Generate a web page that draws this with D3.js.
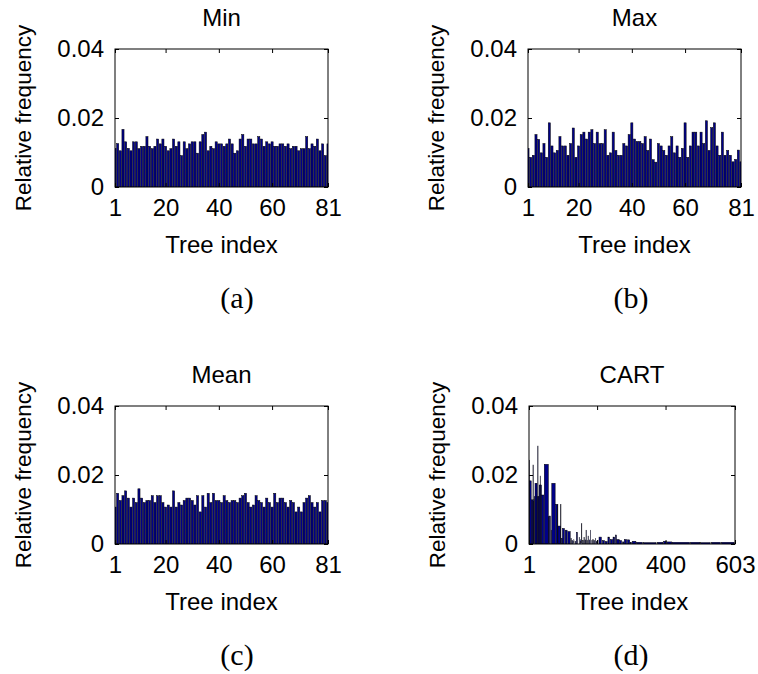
<!DOCTYPE html>
<html>
<head>
<meta charset="utf-8">
<script src="https://cdn.jsdelivr.net/npm/d3@7"></script>
<style>
  body { margin: 0; background: #fff; }
  svg { display: block; }
  text { font-family: Arial, "Liberation Sans", sans-serif; }
</style>
</head>
<body>
<div id="chart"></div>
<script>
// relative frequency of each tree being chosen
const minFreq = [0.0112, 0.0126, 0.0105, 0.0167, 0.0131, 0.0112, 0.0105, 0.0131, 0.0131, 0.0111,
  0.0118, 0.0118, 0.0146, 0.0118, 0.0111, 0.0118, 0.0139, 0.0125, 0.0139, 0.0118,
  0.0105, 0.0111, 0.0139, 0.0118, 0.0131, 0.0091, 0.0131, 0.0111, 0.0125, 0.0131,
  0.0131, 0.0098, 0.0131, 0.0152, 0.0159, 0.0105, 0.0118, 0.0111, 0.0131, 0.0125,
  0.0125, 0.0118, 0.0125, 0.0139, 0.0125, 0.0098, 0.0105, 0.0139, 0.0152, 0.0118,
  0.0139, 0.0139, 0.0125, 0.0125, 0.0146, 0.0139, 0.0118, 0.0131, 0.0125, 0.0131,
  0.0118, 0.0118, 0.0125, 0.0125, 0.0118, 0.0125, 0.0111, 0.0118, 0.0118, 0.0105,
  0.0111, 0.0111, 0.0146, 0.0111, 0.0125, 0.0118, 0.0139, 0.0105, 0.0125, 0.0091, 0.0125];

const maxFreq = [0.0112, 0.0086, 0.0092, 0.0152, 0.0138, 0.0099, 0.0126, 0.0086, 0.0186, 0.0119,
  0.0099, 0.0106, 0.0146, 0.0119, 0.0119, 0.0092, 0.0126, 0.0171, 0.0086, 0.0119,
  0.0152, 0.0159, 0.0139, 0.0159, 0.0166, 0.0126, 0.0159, 0.0126, 0.0126, 0.0166,
  0.0092, 0.0099, 0.0159, 0.0106, 0.0092, 0.0092, 0.0126, 0.0119, 0.0152, 0.0186,
  0.0139, 0.0132, 0.0132, 0.0126, 0.0146, 0.0106, 0.0139, 0.0079, 0.0072, 0.0126,
  0.0119, 0.0106, 0.0092, 0.0119, 0.0146, 0.0099, 0.0119, 0.0086, 0.0112, 0.0186,
  0.0086, 0.0119, 0.0159, 0.0159, 0.0119, 0.0159, 0.0126, 0.0192, 0.0106, 0.0172,
  0.0186, 0.0119, 0.0092, 0.0159, 0.0092, 0.0106, 0.0092, 0.0073, 0.0080, 0.0107, 0.0073];

const meanFreq = [0.0107, 0.0147, 0.0126, 0.0140, 0.0154, 0.0133, 0.0107, 0.0133, 0.0120, 0.0160,
  0.0133, 0.0120, 0.0126, 0.0126, 0.0140, 0.0120, 0.0140, 0.0140, 0.0120, 0.0107,
  0.0113, 0.0107, 0.0154, 0.0107, 0.0120, 0.0113, 0.0126, 0.0133, 0.0133, 0.0126,
  0.0113, 0.0140, 0.0093, 0.0140, 0.0107, 0.0147, 0.0120, 0.0147, 0.0126, 0.0126,
  0.0120, 0.0140, 0.0126, 0.0120, 0.0126, 0.0126, 0.0120, 0.0133, 0.0140, 0.0147,
  0.0120, 0.0107, 0.0113, 0.0140, 0.0126, 0.0120, 0.0107, 0.0133, 0.0120, 0.0107,
  0.0147, 0.0120, 0.0133, 0.0133, 0.0120, 0.0107, 0.0126, 0.0120, 0.0093, 0.0107,
  0.0093, 0.0120, 0.0133, 0.0140, 0.0120, 0.0107, 0.0120, 0.0093, 0.0126, 0.0126, 0.0120];

// CART: bars span tree ranges (from..to) with one frequency each
const cartFrom = [1, 2, 3, 8, 13, 14, 18, 19, 25, 27, 28, 31, 34, 35, 38, 46, 58, 61, 66, 68,
  79, 85, 86, 94, 96, 99, 107, 115, 124, 127, 132, 136, 140, 148, 151, 155, 158, 162, 165, 168,
  171, 174, 177, 181, 185, 188, 191, 195, 198, 202, 206, 216, 224, 232, 239, 247, 254, 258, 266, 275,
  280, 289, 297, 303, 316, 336, 377, 395, 405, 420, 474, 503, 535, 564];
const cartTo = [1, 2, 7, 12, 13, 15, 18, 24, 25, 27, 30, 33, 34, 37, 44, 57, 59, 63, 66, 77,
  84, 85, 93, 94, 98, 104, 112, 121, 124, 128, 132, 137, 142, 148, 152, 155, 159, 162, 166, 168,
  171, 174, 178, 181, 185, 188, 192, 195, 199, 202, 212, 221, 229, 236, 245, 251, 256, 264, 271, 278,
  286, 295, 300, 313, 332, 372, 392, 402, 418, 470, 500, 530, 560, 600];
const cartFreq = [0.0183, 0.0243, 0.0183, 0.0128, 0.0229, 0.0128, 0.0137, 0.0176, 0.0137, 0.0284,
  0.0137, 0.0171, 0.0197, 0.0171, 0.0142, 0.0231, 0.0079, 0.0081, 0.0040, 0.0176,
  0.0115, 0.0115, 0.0052, 0.0115, 0.0016, 0.0045, 0.0040, 0.0036, 0.0016, 0.0010,
  0.0012, 0.0008, 0.0034, 0.0019, 0.0012, 0.0060, 0.0010, 0.0019, 0.0012, 0.0040,
  0.0010, 0.0023, 0.0012, 0.0040, 0.0010, 0.0013, 0.0010, 0.0016, 0.0008, 0.0010,
  0.0020, 0.0010, 0.0007, 0.0020, 0.0013, 0.0020, 0.0026, 0.0013, 0.0010, 0.0006,
  0.0013, 0.0012, 0.0005, 0.0008, 0.0005, 0.0004, 0.0005, 0.0008, 0.0006, 0.0005,
  0.0005, 0.0004, 0.0005, 0.0005];

const yTicks = [0, 0.02, 0.04];
const forestTicks = [1, 20, 40, 60, 81];
const cartTicks = [1, 200, 400, 603];
const titles = ["Min", "Max", "Mean", "CART"];
const captions = ["(a)", "(b)", "(c)", "(d)"];

var width = 758;
var height = 674;
var ph = 138;
var lefts = [115, 528, 115, 529];
var widths = [213, 213, 213, 206];
var tops = [49, 49, 406, 406];
var captionX = [237, 631, 237, 631];
var barFill = "#000088";

var svg = d3.select("#chart").append("svg")
    .attr("width", width)
    .attr("height", height);

function forestBars(values) {
    return values.map(function(v, i) { return {from: i + 1, to: i + 1, v: v}; });
}

var panels = [
    {bars: forestBars(minFreq), domain: [1, 81], ticks: forestTicks},
    {bars: forestBars(maxFreq), domain: [1, 81], ticks: forestTicks},
    {bars: forestBars(meanFreq), domain: [1, 81], ticks: forestTicks},
    {bars: cartFrom.map(function(f, i) { return {from: f, to: cartTo[i], v: cartFreq[i]}; }),
     domain: [1, 603], ticks: cartTicks}
];

panels.forEach(function(p, k) {
    var pw = widths[k];
    var g = svg.append("g")
        .attr("transform", "translate(" + lefts[k] + "," + tops[k] + ")");

    var x = d3.scaleLinear().domain(p.domain).range([0, pw]);
    var y = d3.scaleLinear().domain([0, 0.04]).range([ph, 0]);

    g.append("clipPath").attr("id", "clip" + k)
        .append("rect").attr("width", pw).attr("height", ph);

    g.append("g")
        .attr("clip-path", "url(#clip" + k + ")")
        .selectAll("rect")
        .data(p.bars)
        .enter().append("rect")
        .attr("x", function(d) { return x(d.from - 0.4); })
        .attr("width", function(d) { return x(d.to + 0.4) - x(d.from - 0.4); })
        .attr("y", function(d) { return y(d.v); })
        .attr("height", function(d) { return ph - y(d.v); })
        .attr("fill", barFill)
        .attr("stroke", "#000")
        .attr("stroke-width", 0.5);

    // box
    g.append("rect")
        .attr("width", pw).attr("height", ph)
        .attr("fill", "none").attr("stroke", "#000").attr("stroke-width", 1);

    var fmt = function(d) { return d === 0 ? "0" : d3.format(".2f")(d); };

    g.append("g")
        .call(d3.axisLeft(y).tickValues(yTicks).tickFormat(fmt)
            .tickSizeInner(-4).tickSizeOuter(0).tickPadding(11));
    g.append("g").attr("transform", "translate(" + pw + ",0)")
        .call(d3.axisRight(y).tickValues(yTicks).tickFormat("")
            .tickSizeInner(-4).tickSizeOuter(0));

    g.append("g").attr("transform", "translate(0," + ph + ")")
        .call(d3.axisBottom(x).tickValues(p.ticks)
            .tickSizeInner(-4).tickSizeOuter(0).tickPadding(12));
    g.append("g")
        .call(d3.axisTop(x).tickValues(p.ticks).tickFormat("")
            .tickSizeInner(-4).tickSizeOuter(0));

    g.selectAll(".domain").remove();
    g.selectAll(".tick line").attr("stroke", "#000");
    g.selectAll(".tick text")
        .attr("fill", "#000")
        .style("font-size", "24px")
        .style("font-family", "Arial, 'Liberation Sans', sans-serif");

    g.append("text")
        .attr("x", pw / 2).attr("y", -23)
        .attr("text-anchor", "middle")
        .style("font-size", "24px")
        .text(titles[k]);

    g.append("text")
        .attr("x", pw / 2).attr("y", ph + 66)
        .attr("text-anchor", "middle")
        .style("font-size", "24px")
        .text("Tree index");

    g.append("text")
        .attr("transform", "translate(-84," + (ph / 2) + ") rotate(-90)")
        .attr("text-anchor", "middle")
        .style("font-size", "22.5px")
        .text("Relative frequency");

    g.append("text")
        .attr("x", captionX[k] - lefts[k]).attr("y", ph + 121)
        .attr("text-anchor", "middle")
        .style("font-family", "'Times New Roman', 'Liberation Serif', serif")
        .style("font-size", "30px")
        .text(captions[k]);
});
</script>
</body>
</html>
